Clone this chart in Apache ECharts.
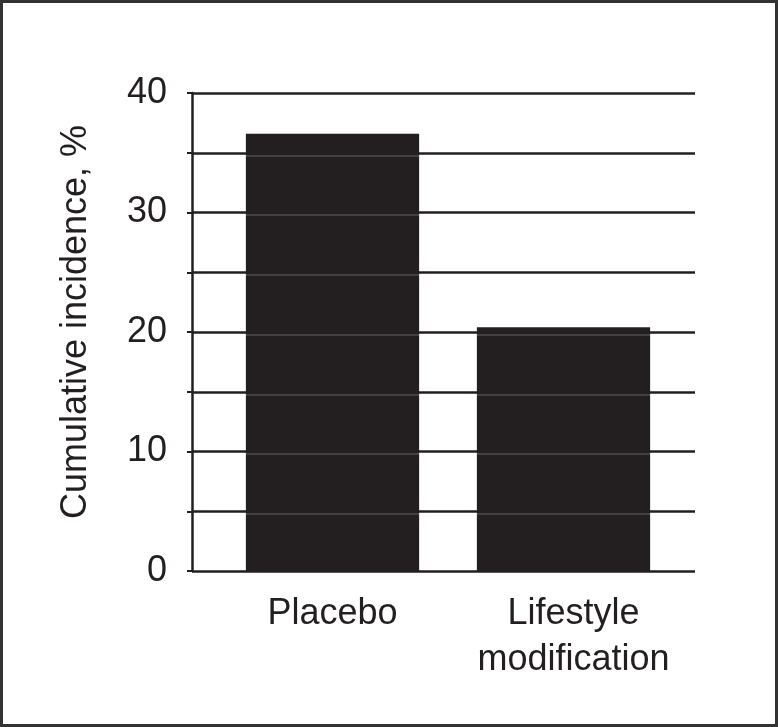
<!DOCTYPE html>
<html><head><meta charset="utf-8">
<script src="https://cdn.jsdelivr.net/npm/echarts@6/dist/echarts.min.js"></script>
<style>html,body{margin:0;padding:0;background:#fff}#c{width:778px;height:727px}</style>
</head><body><div id="c"></div>
<script>
const categories = ['Placebo', 'Lifestyle\nmodification'];
const incidence = [36.6, 20.4];
const yTicks = [0, 10, 20, 30, 40];
const yName = 'Cumulative incidence, %';

const ink = '#231f20';
const font = 'Liberation Sans, Arial, Helvetica, sans-serif';
const labelPads = [[0, 0, 0, 0], [0, 0, 0, 20]];
const chart = echarts.init(document.getElementById('c'), null, {renderer: 'canvas'});
chart.setOption({
  animation: false,
  backgroundColor: '#fff',
  graphic: [{type: 'rect', shape: {x: 1.5, y: 1.5, width: 775, height: 724}, style: {fill: 'none', stroke: '#333', lineWidth: 3}, z: 100}],
  grid: [
    {left: 192, right: 83, top: 93, bottom: 156},
    {left: 217, right: 99, top: 93, bottom: 156},
    {left: 217, right: 99, top: 95.5, bottom: 153.5}
  ],
  xAxis: [
    {gridIndex: 0, type: 'category', data: categories, show: false},
    {gridIndex: 1, type: 'category',
     data: categories.map((c, i) => ({value: c, textStyle: {padding: labelPads[i]}})),
     axisLine: {show: false}, axisTick: {show: false},
     axisLabel: {color: ink, fontSize: 36, fontFamily: font, margin: 20, lineHeight: 46, interval: 0}},
    {gridIndex: 2, type: 'category', data: categories, show: false}
  ],
  yAxis: [
    {gridIndex: 0, type: 'value', min: 0, max: 40, interval: 5,
     name: yName, nameLocation: 'middle', nameGap: 98,
     nameTextStyle: {color: ink, fontSize: 36, fontFamily: font, padding: [0, 0, 0, 20]},
     axisLine: {show: true, lineStyle: {color: ink, width: 2.5}},
     axisTick: {show: true, length: 5, lineStyle: {color: ink, width: 2}},
     axisLabel: {color: ink, fontSize: 36, fontFamily: font, margin: 25,
       formatter: v => yTicks.includes(v) ? String(v) : ''},
     splitLine: {show: true, lineStyle: {color: ink, width: 2.5}}},
    {gridIndex: 1, type: 'value', min: 0, max: 40, interval: 5, show: false, splitLine: {show: false}},
    {gridIndex: 2, type: 'value', min: 0, max: 40, interval: 5, z: 5,
     axisLine: {show: false}, axisTick: {show: false}, axisLabel: {show: false},
     splitLine: {show: true, lineStyle: {color: 'rgba(255,255,255,0.2)', width: 1.5}}}
  ],
  series: [{
    type: 'bar', xAxisIndex: 1, yAxisIndex: 1, data: incidence,
    barWidth: '75%', itemStyle: {color: ink}, z: 2
  }]
});
</script></body></html>
